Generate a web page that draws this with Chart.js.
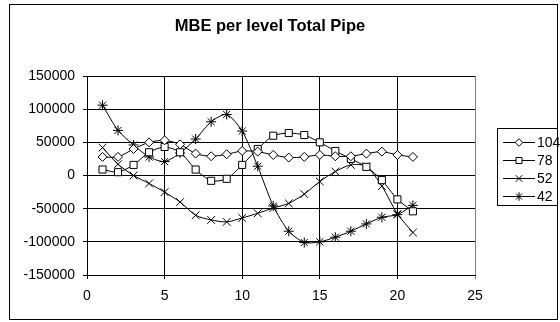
<!DOCTYPE html>
<html>
<head>
<meta charset="utf-8">
<script src="https://cdn.jsdelivr.net/npm/chart.js@4/dist/chart.umd.min.js"></script>
<style>
  html, body { margin: 0; padding: 0; background: #fff; }
  #wrap { width: 560px; height: 322px; position: relative; }
</style>
</head>
<body>
<div id="wrap"><canvas id="c" width="560" height="322"></canvas></div>
<script>
// Level index (x) and MBE values for each series
const levels = [1, 2, 3, 4, 5, 6, 7, 8, 9, 10, 11, 12, 13, 14, 15, 16, 17, 18, 19, 20, 21];
const seriesNames = ['104', '78', '52', '42'];
const mbe104 = [28000, 28000, 40000, 50000, 53000, 47000, 33000, 29000, 32000, 37000, 36000, 31000, 27000, 28000, 31000, 29000, 29000, 33000, 36000, 31000, 28000];
const mbe78  = [9000, 5000, 16000, 35000, 43000, 35000, 9000, -8000, -5000, 16000, 40000, 60000, 64000, 61000, 50000, 37000, 25000, 13000, -7000, -36000, -54000];
const mbe52  = [42000, 17000, 0, -12000, -25000, -40000, -60000, -67000, -70000, -64000, -57000, -49000, -42000, -28000, -9000, 6000, 16000, 14000, -16000, -58000, -86000];
const mbe42  = [106000, 68000, 46000, 28000, 21000, 34000, 55000, 81000, 92000, 67000, 14000, -46000, -84000, -101000, -100000, -93000, -84000, -73000, -63000, -59000, -45000];
const xTicks = [0, 5, 10, 15, 20, 25];
const yTicks = [-150000, -100000, -50000, 0, 50000, 100000, 150000];
const chartTitle = 'MBE per level Total Pipe';

const FONT = 'Liberation Sans, Arial, sans-serif';
const markers = [
  { style: 'rectRot', radius: 4.5 },
  { style: 'rect', radius: 5 },
  { style: 'crossRot', radius: 5.5 },
  { style: 'star', radius: 5 }
];
const values = [mbe104, mbe78, mbe52, mbe42];

const datasets = seriesNames.map((name, i) => ({
  label: name,
  data: levels.map((x, k) => ({ x: x, y: values[i][k] })),
  borderColor: '#000',
  borderWidth: 1,
  pointStyle: markers[i].style,
  pointRadius: markers[i].radius,
  pointHoverRadius: markers[i].radius,
  pointBackgroundColor: '#fff',
  pointBorderColor: '#000',
  pointBorderWidth: 1,
  tension: 0.25,
  fill: false
}));

// Frame, title and legend box drawn around the plot
const decor = {
  id: 'decor',
  beforeDraw(chart) {
    const ctx = chart.ctx;
    ctx.save();
    ctx.fillStyle = '#fff';
    ctx.fillRect(0, 0, chart.width, chart.height);
    ctx.restore();
  },
  afterDraw(chart) {
    const ctx = chart.ctx;
    ctx.save();
    // outer frame
    ctx.strokeStyle = '#000';
    ctx.lineWidth = 1;
    ctx.strokeRect(9.5, 4.5, 548, 315);
    // title
    ctx.fillStyle = '#000';
    ctx.font = 'bold 16.5px ' + FONT;
    ctx.textAlign = 'center';
    ctx.textBaseline = 'middle';
    ctx.fillText(chartTitle, 270, 26);
    // legend
    const lx = 497, ly = 128, lw = 60, lh = 77;
    ctx.strokeRect(lx + 0.5, ly + 0.5, lw, lh);
    ctx.font = '14px ' + FONT;
    ctx.textAlign = 'left';
    seriesNames.forEach((name, i) => {
      const y = 142 + i * 18;
      ctx.beginPath();
      ctx.moveTo(503, y + 0.5);
      ctx.lineTo(535, y + 0.5);
      ctx.strokeStyle = '#000';
      ctx.stroke();
      ctx.fillStyle = '#fff';
      ctx.strokeStyle = '#000';
      Chart.helpers.drawPoint(ctx, { pointStyle: markers[i].style, radius: markers[i].radius * 0.85, rotation: 0, borderWidth: 1 }, 519, y + 0.5);
      ctx.fillStyle = '#000';
      ctx.fillText(name, 537, y + 1);
    });
    ctx.restore();
  }
};

new Chart(document.getElementById('c'), {
  type: 'line',
  data: { datasets },
  options: {
    responsive: false,
    animation: false,
    devicePixelRatio: 1,
    layout: { padding: { left: 0, right: 85, top: 76, bottom: 0 } },
    plugins: { legend: { display: false }, title: { display: false }, tooltip: { enabled: false } },
    scales: {
      x: {
        type: 'linear',
        min: 0, max: 25,
        afterBuildTicks(scale) { scale.ticks = xTicks.map(v => ({ value: v })); },
        afterFit(scale) { scale.height = 47; },
        grid: {
          color: ctx => (ctx.tick && ctx.tick.value === 25) ? '#808080' : '#000',
          lineWidth: 1,
          tickLength: 4,
          drawTicks: true
        },
        border: { display: true, color: '#000', width: 1 },
        ticks: { color: '#000', font: { family: FONT, size: 14 }, padding: 9, maxRotation: 0, callback: v => String(v) }
      },
      y: {
        type: 'linear',
        min: -150000, max: 150000,
        afterBuildTicks(scale) { scale.ticks = yTicks.map(v => ({ value: v })); },
        afterFit(scale) { scale.width = 87; },
        grid: { color: '#000', lineWidth: 1, tickLength: 4, drawTicks: true },
        border: { display: true, color: '#000', width: 1 },
        ticks: { color: '#000', font: { family: FONT, size: 14 }, padding: 8, callback: v => String(v) }
      }
    }
  },
  plugins: [decor]
});
</script>
</body>
</html>
